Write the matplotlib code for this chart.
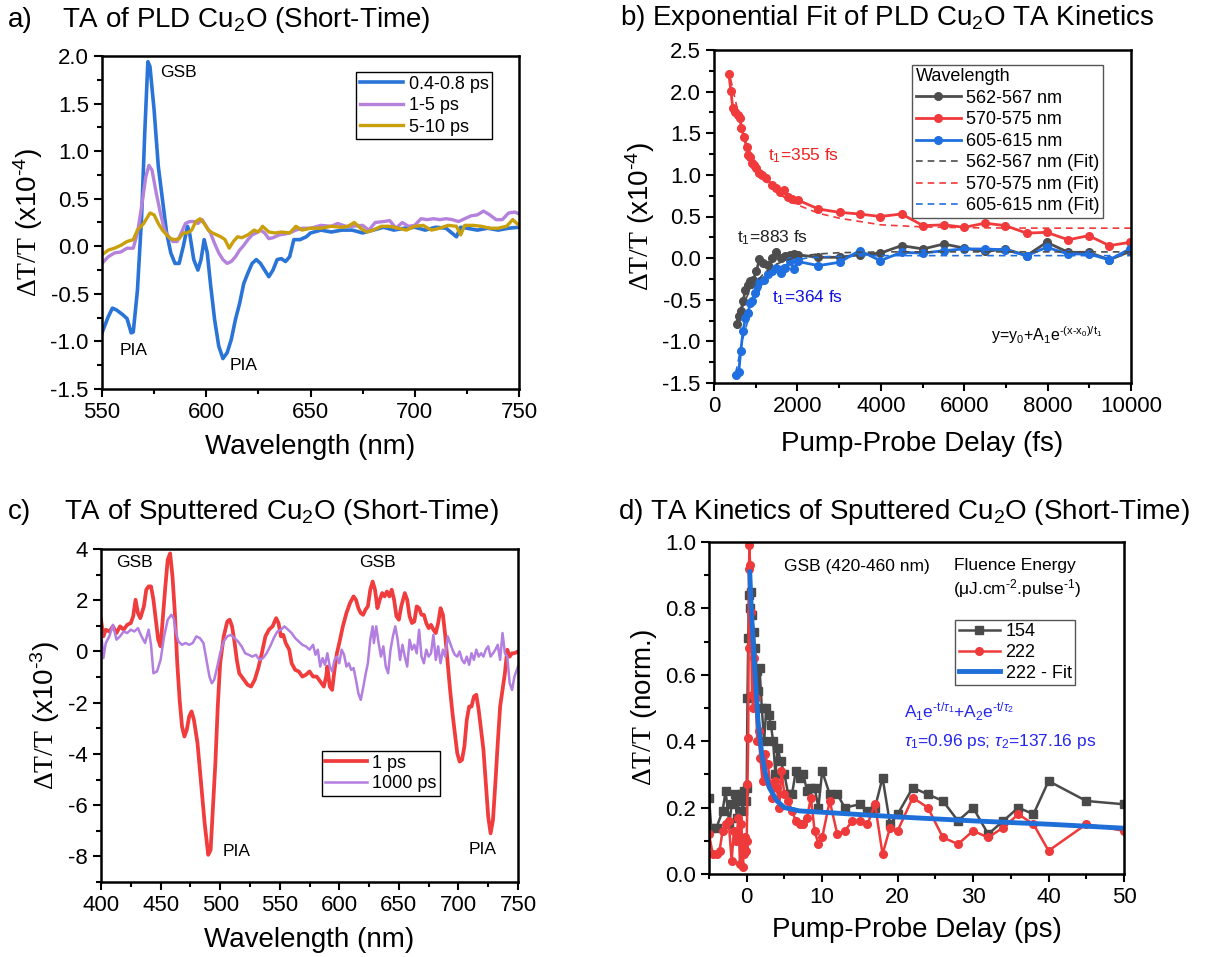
import matplotlib
matplotlib.use("Agg")
import matplotlib.pyplot as plt
import matplotlib.ticker as ticker
import numpy as np

plt.rcParams["font.family"] = ["Liberation Sans", "DejaVu Sans"]
plt.rcParams["mathtext.fontset"] = "custom"
plt.rcParams["mathtext.rm"] = "Liberation Sans"
plt.rcParams["mathtext.it"] = "Liberation Sans:italic"
plt.rcParams["mathtext.cal"] = "Liberation Serif"
plt.rcParams["axes.unicode_minus"] = False

# ---------------- panel a: TA of PLD Cu2O ----------------
a_x_blue = [550, 553, 555, 557, 560, 562, 564, 565, 567, 569, 570.5, 572, 573, 575, 577, 579,
            581, 583, 585, 587, 589, 591, 592, 594, 596, 597.5, 599, 600.5, 602, 604, 606, 608,
            610, 612, 614, 616, 618, 620, 622, 624, 626, 628, 630, 632, 634, 636, 638, 640,
            642, 645, 648, 650, 655, 660, 665, 670, 675, 680, 685, 690, 695, 700, 705, 710,
            715, 720, 722, 725, 730, 735, 740, 745, 750]
a_blue = [-0.91, -0.74, -0.65, -0.67, -0.72, -0.76, -0.91, -0.90, -0.46, 0.31, 1.19, 1.94, 1.89,
          1.43, 0.84, 0.49, 0.14, -0.07, -0.18, -0.18, 0.0, 0.21, 0.14, -0.14, -0.25, -0.14,
          0.07, -0.07, -0.39, -0.77, -1.05, -1.18, -1.12, -0.98, -0.77, -0.60, -0.39, -0.28,
          -0.18, -0.14, -0.18, -0.25, -0.32, -0.25, -0.14, -0.13, -0.16, -0.11, 0.07, 0.07,
          0.10, 0.14, 0.17, 0.15, 0.17, 0.17, 0.14, 0.17, 0.20, 0.17, 0.19, 0.20, 0.17, 0.20,
          0.19, 0.10, 0.20, 0.19, 0.17, 0.19, 0.17, 0.19, 0.20]

a_x_purple = [550, 553, 556, 559, 562, 565, 567, 569, 571, 572.5, 574, 576, 578, 580, 582, 584,
              586, 588, 590, 592, 594, 596, 598, 600, 602, 604, 606, 608, 610, 612, 614, 616,
              618, 620, 622, 624, 626, 628, 630, 632, 635, 638, 640, 643, 646, 650, 655, 660,
              663, 667, 670, 675, 678, 681, 685, 688, 691, 694, 697, 700, 703, 706, 709, 712,
              715, 718, 721, 724, 727, 730, 733, 736, 739, 742, 745, 748, 750]
a_purple = [-0.18, -0.11, -0.07, -0.06, -0.02, -0.02, 0.14, 0.42, 0.73, 0.85, 0.80, 0.56, 0.35,
            0.17, 0.10, 0.05, 0.05, 0.14, 0.24, 0.26, 0.26, 0.24, 0.28, 0.21, 0.14, 0.03, -0.07,
            -0.14, -0.18, -0.16, -0.11, -0.04, 0.01, 0.07, 0.12, 0.14, 0.17, 0.14, 0.08, 0.09,
            0.12, 0.13, 0.14, 0.17, 0.19, 0.19, 0.22, 0.21, 0.24, 0.21, 0.21, 0.22, 0.17, 0.25,
            0.26, 0.27, 0.19, 0.25, 0.21, 0.22, 0.29, 0.28, 0.29, 0.28, 0.29, 0.28, 0.26, 0.29,
            0.32, 0.33, 0.37, 0.33, 0.28, 0.28, 0.35, 0.36, 0.34]

a_x_gold = [550, 553, 556, 559, 562, 565, 567, 570, 573, 575, 577, 579, 581, 583, 585, 587, 589,
            591, 593, 595, 597, 599, 601, 603, 605, 607, 609, 611, 613, 615, 617, 620, 623, 625,
            627, 630, 633, 636, 640, 643, 646, 650, 655, 660, 665, 668, 671, 674, 677, 680, 684,
            688, 692, 696, 700, 704, 708, 712, 716, 720, 722, 724, 728, 732, 736, 740, 744, 747,
            750]
a_gold = [-0.09, -0.04, -0.02, 0.01, 0.05, 0.07, 0.17, 0.24, 0.35, 0.33, 0.24, 0.17, 0.12, 0.08,
          0.07, 0.08, 0.14, 0.14, 0.17, 0.26, 0.29, 0.24, 0.17, 0.14, 0.12, 0.10, 0.07, -0.02,
          0.05, 0.10, 0.09, 0.12, 0.17, 0.15, 0.21, 0.15, 0.14, 0.15, 0.14, 0.21, 0.17, 0.19,
          0.19, 0.21, 0.20, 0.21, 0.25, 0.19, 0.15, 0.17, 0.21, 0.21, 0.19, 0.17, 0.21, 0.22,
          0.17, 0.19, 0.22, 0.21, 0.12, 0.22, 0.22, 0.21, 0.19, 0.19, 0.21, 0.28, 0.22]

a_labels = ["0.4-0.8 ps", "1-5 ps", "5-10 ps"]

# ---------------- panel b: kinetics fits ----------------
b_t_red = [357, 404, 451, 498, 564, 621, 659, 715, 781, 809, 875, 922, 969, 1016, 1091, 1157,
           1251, 1392, 1486, 1580, 1675, 1769, 1863, 2004, 2502, 3010, 3490, 3989, 4497, 5014,
           5513, 6002, 6500, 6990, 7498, 7977, 8495, 8984, 9482, 9972]
b_red = [2.21, 2.01, 1.80, 1.76, 1.72, 1.68, 1.56, 1.46, 1.34, 1.24, 1.22, 1.14, 1.12, 1.08,
         1.02, 1.00, 0.96, 0.88, 0.84, 0.80, 0.82, 0.74, 0.71, 0.70, 0.59, 0.55, 0.53, 0.50,
         0.53, 0.39, 0.40, 0.37, 0.42, 0.39, 0.30, 0.31, 0.22, 0.27, 0.15, 0.19]

b_t_black = [546, 593, 640, 696, 753, 809, 875, 941, 1016, 1091, 1185, 1298, 1392, 1486, 1599,
             1693, 1816, 1910, 2004, 2502, 3010, 3490, 3989, 4497, 5014, 5513, 6002, 6500,
             6990, 7498, 7977, 8495, 8984, 9482, 9972]
b_black = [-0.79, -0.69, -0.64, -0.52, -0.38, -0.32, -0.28, -0.26, -0.16, -0.01, -0.06, -0.08,
           0.0, 0.07, 0.0, 0.03, 0.04, 0.05, 0.04, 0.01, 0.01, 0.04, 0.06, 0.15, 0.11, 0.17,
           0.12, 0.08, 0.11, 0.03, 0.19, 0.07, 0.07, -0.02, 0.08]

b_t_blue = [527, 593, 640, 696, 753, 809, 875, 922, 979, 1035, 1110, 1204, 1298, 1392, 1486,
            1599, 1693, 1816, 1910, 2004, 2502, 3010, 3490, 3989, 4497, 5014, 5513, 6002, 6500,
            6990, 7498, 7977, 8495, 8984, 9482, 9972]
b_blue = [-1.40, -1.37, -1.12, -0.88, -0.72, -0.66, -0.54, -0.52, -0.42, -0.34, -0.28, -0.26,
          -0.19, -0.16, -0.12, -0.18, -0.12, -0.04, -0.13, -0.04, -0.09, -0.05, 0.09, -0.03,
          0.07, 0.06, 0.09, 0.11, 0.11, 0.10, 0.03, 0.13, 0.05, 0.05, -0.02, 0.11]

b_fit_t_red = [400, 600, 800, 1000, 1200, 1400, 1600, 1800, 2000, 2500, 3000, 3500, 4000, 5000,
               6000, 7000, 8000, 10000]
b_fit_red = [2.15, 1.70, 1.35, 1.10, 0.95, 0.84, 0.76, 0.69, 0.64, 0.54, 0.48, 0.44, 0.40, 0.375,
             0.365, 0.362, 0.36, 0.36]
b_fit_t_black = [550, 800, 1000, 1200, 1500, 2000, 2500, 3000, 4000, 10000]
b_fit_black = [-0.75, -0.45, -0.30, -0.18, -0.07, 0.02, 0.05, 0.065, 0.075, 0.075]
b_fit_t_blue = [520, 700, 900, 1100, 1300, 1500, 1800, 2200, 2800, 4000, 10000]
b_fit_blue = [-1.38, -0.95, -0.60, -0.38, -0.23, -0.13, -0.05, 0.0, 0.02, 0.03, 0.03]

b_labels = ["562-567 nm", "570-575 nm", "605-615 nm"]

# ---------------- panel c: sputtered Cu2O spectra ----------------
c_x_red = [400, 402, 404, 407, 410, 413, 416, 419, 422, 425, 427, 429, 431, 433, 436, 438, 440,
           442, 444, 446, 448, 450, 452, 454, 456, 458, 460, 462, 464, 466, 468, 470, 472, 474,
           476, 478, 481, 484, 487, 490, 492, 494, 496, 498, 500, 503, 506, 508, 510, 512, 514,
           516, 518, 520, 523, 526, 529, 532, 535, 538, 541, 544, 547, 549, 551, 553, 555, 558,
           560, 563, 566, 569, 572, 575, 578, 581, 584, 587, 589, 590, 592, 594, 596, 598, 600,
           603, 606, 609, 612, 614, 616, 618, 620, 622, 624, 626, 628, 630, 632, 634, 636, 638,
           640, 642, 644, 646, 648, 650, 652, 655, 657, 659, 661, 663, 665, 667, 669, 671, 673,
           675, 677, 679, 681, 683, 685, 687, 689, 691, 693, 695, 697, 699, 701, 703, 705, 707,
           709, 711, 713, 715, 717, 719, 721, 723, 725, 727, 729, 731, 733, 735, 737, 739, 741,
           743, 745, 747, 750]
c_red = [1.24, 0.59, 0.85, 0.78, 0.98, 0.72, 0.98, 0.85, 1.04, 1.11, 1.37, 2.02, 1.50, 1.30,
         1.76, 2.41, 2.54, 2.54, 2.02, 1.24, 0.46, 0.20, 1.37, 2.54, 3.58, 3.83, 2.93, 1.50,
         -0.46, -1.89, -2.93, -3.32, -3.06, -2.54, -2.34, -2.67, -3.58, -5.14, -6.71, -7.94,
         -7.75, -6.05, -4.36, -2.15, -0.46, 0.59, 1.17, 1.24, 0.98, 0.39, -0.33, -0.85, -0.98,
         -1.11, -1.30, -1.37, -1.11, -0.65, -0.07, 0.59, 0.85, 0.98, 1.30, 1.11, 0.59, 0.65,
         0.33, 0.07, -0.46, -0.72, -0.78, -0.98, -0.91, -0.78, -0.98, -0.98, -1.17, -1.37,
         -0.98, -0.59, -1.37, -1.50, -0.72, -0.07, 0.33, 0.98, 1.50, 1.89, 2.15, 2.02, 1.69,
         1.50, 1.43, 1.63, 1.76, 2.41, 2.73, 2.41, 1.69, 2.02, 2.28, 2.15, 2.34, 2.15, 2.41,
         2.02, 1.37, 1.24, 1.76, 2.28, 2.02, 1.37, 1.11, 1.17, 1.76, 1.69, 1.43, 1.43, 1.11,
         0.91, 1.04, 0.85, 0.72, 1.11, 1.69, 1.43, 0.59, -0.46, -1.50, -2.41, -3.19, -3.97,
         -4.30, -4.23, -3.71, -2.67, -2.15, -2.15, -1.76, -1.69, -2.28, -3.06, -3.84, -5.14,
         -6.45, -7.10, -6.58, -5.14, -3.58, -2.15, -1.50, -0.85, 0.07, -0.20, -0.07, -0.07, 0.0]

c_x_purple = [400, 402, 404, 407, 410, 413, 416, 419, 422, 425, 428, 431, 434, 437, 440, 442,
              444, 447, 450, 453, 456, 459, 461, 463, 465, 468, 471, 474, 477, 480, 483, 486,
              489, 491, 493, 495, 497, 500, 503, 506, 509, 512, 515, 518, 521, 524, 527, 530,
              533, 536, 539, 542, 545, 548, 551, 554, 557, 560, 563, 566, 569, 572, 575, 578,
              580, 582, 584, 586, 588, 590, 592, 594, 596, 598, 600, 602, 604, 606, 608, 610,
              612, 614, 616, 618, 620, 622, 624, 626, 628, 629, 631, 633, 635, 637, 639, 641,
              643, 645, 647, 649, 651, 653, 655, 657, 659, 661, 663, 665, 667, 669, 671, 673,
              675, 677, 679, 681, 683, 685, 687, 689, 691, 693, 695, 697, 699, 701, 703, 705,
              707, 709, 711, 713, 715, 717, 719, 721, 723, 725, 727, 729, 731, 733, 735, 737,
              739, 741, 743, 745, 747, 750]
c_purple = [0.85, -0.26, 0.33, 0.59, 1.04, 0.46, 0.59, 0.78, 0.72, 0.85, 0.78, 0.91, 0.59, 0.33,
            0.85, 0.26, -0.85, -0.78, -0.33, 0.59, 1.24, 1.43, 1.30, 0.72, 0.39, 0.26, 0.33,
            0.26, 0.33, 0.59, 0.52, 0.33, -0.46, -0.98, -1.24, -1.11, -0.72, -0.07, 0.39, 0.59,
            0.65, 0.52, 0.39, 0.20, -0.07, -0.13, -0.20, -0.13, -0.33, -0.26, -0.07, 0.20, 0.52,
            0.78, 0.85, 0.98, 0.85, 0.72, 0.52, 0.39, 0.26, 0.20, 0.07, 0.26, -0.13, 0.07, -0.59,
            -0.26, -0.52, -0.07, -0.59, -0.78, -0.33, -0.20, -0.46, 0.07, -0.13, -0.59, -0.46,
            -0.72, -0.65, -1.11, -1.63, -1.89, -1.43, -0.91, -0.46, 0.46, 0.98, 0.33, 0.98, 0.33,
            -0.20, 0.20, -0.59, -0.85, 0.07, 0.59, 0.98, 0.46, -0.33, 0.26, -0.20, -0.59, 0.46,
            0.07, 0.26, -0.07, 0.85, -0.20, -0.46, 0.07, -0.20, -0.07, 0.65, -0.33, 0.20, -0.46,
            0.07, -0.20, 0.59, 0.33, 0.07, -0.13, -0.20, 0.0, -0.33, -0.46, -0.20, -0.52, -0.07,
            -0.33, 0.07, -0.20, -0.07, -0.20, 0.07, 0.20, -0.20, -0.07, 0.07, 0.26, -0.33, 0.72,
            -0.07, -0.20, -1.24, -1.50, -0.98, -0.59]

c_labels = ["1 ps", "1000 ps"]

# ---------------- panel d: sputtered Cu2O kinetics ----------------
d_t_154 = [-5.0, -4.7, -4.0, -3.2, -2.8, -2.3, -2.0, -1.6, -1.3, -1.0, -0.8, -0.5, -0.3, -0.1,
           0.0, 0.1, 0.2, 0.3, 0.4, 0.5, 0.7, 0.9, 1.1, 1.3, 1.5, 1.7, 2.0, 2.3, 2.6, 2.9, 3.2,
           3.5, 3.8, 4.1, 4.5, 5.0, 5.5, 6.0, 6.5, 7.0, 7.5, 8.0, 8.5, 9.0, 9.5, 10.0, 11.0,
           12.0, 13.0, 15.0, 16.0, 17.0, 18.0, 19.0, 20.0, 22.0, 24.0, 26.0, 28.0, 30.0, 32.0,
           34.0, 36.0, 38.0, 40.0, 45.0, 50.0]
d_154 = [0.23, 0.14, 0.14, 0.19, 0.25, 0.15, 0.21, 0.24, 0.17, 0.22, 0.24, 0.19, 0.25, 0.22,
         0.26, 0.53, 0.71, 0.84, 0.80, 0.85, 0.78, 0.73, 0.68, 0.61, 0.55, 0.62, 0.50, 0.40,
         0.50, 0.48, 0.45, 0.40, 0.30, 0.38, 0.34, 0.30, 0.24, 0.24, 0.31, 0.29, 0.30, 0.25,
         0.26, 0.26, 0.20, 0.31, 0.24, 0.24, 0.20, 0.21, 0.19, 0.20, 0.29, 0.15, 0.18, 0.26,
         0.24, 0.22, 0.16, 0.20, 0.12, 0.16, 0.20, 0.18, 0.28, 0.22, 0.21]

d_t_222 = [-5.0, -4.5, -4.0, -3.6, -3.2, -2.8, -2.4, -2.0, -1.7, -1.4, -1.1, -0.9, -0.7, -0.5,
           -0.4, -0.3, -0.2, -0.1, 0.0, 0.1, 0.2, 0.25, 0.3, 0.35, 0.45, 0.55, 0.7, 0.85, 1.0,
           1.2, 1.4, 1.6, 1.8, 2.1, 2.4, 2.8, 3.1, 3.4, 3.7, 4.0, 4.3, 4.6, 5.0, 5.5, 6.0, 6.5,
           7.0, 7.5, 8.0, 8.5, 9.0, 9.5, 10.0, 11.0, 12.0, 13.0, 14.0, 15.0, 16.0, 17.0, 18.0,
           19.0, 20.0, 22.0, 24.0, 26.0, 28.0, 30.0, 32.0, 34.0, 36.0, 38.0, 40.0, 45.0, 50.0]
d_222 = [0.12, 0.06, 0.06, 0.07, 0.13, 0.15, 0.16, 0.04, 0.13, 0.10, 0.17, 0.03, 0.15, 0.02,
         0.08, 0.06, 0.11, 0.07, 0.10, 0.27, 0.41, 0.68, 0.92, 0.99, 0.93, 0.79, 0.54, 0.50,
         0.65, 0.53, 0.40, 0.43, 0.35, 0.28, 0.36, 0.33, 0.27, 0.23, 0.28, 0.26, 0.20, 0.31,
         0.24, 0.22, 0.19, 0.16, 0.15, 0.15, 0.17, 0.23, 0.13, 0.09, 0.11, 0.22, 0.12, 0.13,
         0.16, 0.16, 0.15, 0.21, 0.06, 0.14, 0.13, 0.23, 0.20, 0.11, 0.09, 0.13, 0.11, 0.14,
         0.18, 0.15, 0.07, 0.15, 0.13]

d_t_fit = [0.4, 0.6, 1.0, 1.5, 2.0, 2.5, 3.0, 4.0, 5.0, 7.0, 10.0, 20.0, 30.0, 40.0, 50.0]
d_fit = [0.91, 0.80, 0.64, 0.46, 0.36, 0.30, 0.26, 0.22, 0.20, 0.19, 0.186, 0.172, 0.16, 0.15,
         0.138]

d_labels = ["154", "222", "222 - Fit"]


def style_axes(ax):
    for sp in ax.spines.values():
        sp.set_linewidth(1.8)
    ax.tick_params(which="both", direction="out", top=False, right=False, width=1.5,
                   labelsize=16)
    ax.tick_params(which="major", length=6)
    ax.tick_params(which="minor", length=3.5)


def boxed_legend(ax, **kw):
    leg = ax.legend(handletextpad=0.3, borderpad=0.2, fancybox=False, framealpha=1, **kw)
    leg.get_frame().set_linewidth(1.0)
    return leg


fig = plt.figure(figsize=(12.14, 9.57), dpi=100)
W, H = 1214, 957


def add_ax(left, top, right, bottom):
    return fig.add_axes([left / W, 1 - bottom / H, (right - left) / W, (bottom - top) / H])


ax_a = add_ax(102, 56, 519, 389)
ax_b = add_ax(714, 50, 1131, 383)
ax_c = add_ax(101, 549, 518, 882)
ax_d = add_ax(709, 542, 1124, 874)

ylab4 = r"$\mathcal{\Delta T/T}$ (x10$^{\text{-4}}$)"
ylab3 = r"$\mathcal{\Delta T/T}$ (x10$^{\text{-3}}$)"
lfs = 20

# ---- a ----
ax_a.plot(a_x_blue, a_blue, color="#2a74d8", lw=2.6, label=a_labels[0])
ax_a.plot(a_x_purple, a_purple, color="#b482dc", lw=2.4, label=a_labels[1])
ax_a.plot(a_x_gold, a_gold, color="#c9a00c", lw=2.4, label=a_labels[2])
ax_a.set_xlim(550, 750)
ax_a.set_ylim(-1.5, 2.0)
ax_a.xaxis.set_major_locator(ticker.MultipleLocator(50))
ax_a.xaxis.set_minor_locator(ticker.MultipleLocator(25))
ax_a.yaxis.set_major_locator(ticker.MultipleLocator(0.5))
ax_a.yaxis.set_minor_locator(ticker.MultipleLocator(0.25))
ax_a.yaxis.set_major_formatter(ticker.FormatStrFormatter("%.1f"))
ax_a.set_xlabel("Wavelength (nm)", fontsize=lfs, labelpad=8)
ax_a.set_ylabel(ylab4, fontsize=lfs)
ax_a.text(578, 1.83, "GSB", fontsize=12.5, va="center")
ax_a.text(565, -1.1, "PIA", fontsize=12.5, ha="center", va="center")
ax_a.text(618, -1.25, "PIA", fontsize=12.5, ha="center", va="center")
boxed_legend(ax_a, loc="upper right", bbox_to_anchor=(0.957, 0.979), fontsize=13,
             handlelength=2.4, labelspacing=0.25, edgecolor="black")
style_axes(ax_a)

# ---- b ----
cb = {"k": "#4d4d4d", "r": "#f03a3c", "b": "#1f6fe0"}
ax_b.plot(b_t_black, b_black, color=cb["k"], lw=2, marker="o", ms=5.5, label=b_labels[0])
ax_b.plot(b_t_red, b_red, color=cb["r"], lw=2, marker="o", ms=5.5, label=b_labels[1])
ax_b.plot(b_t_blue, b_blue, color=cb["b"], lw=2, marker="o", ms=5.5, label=b_labels[2])
ax_b.plot(b_fit_t_black, b_fit_black, color=cb["k"], lw=1.2, ls=(0, (4, 3)),
          label=b_labels[0] + " (Fit)")
ax_b.plot(b_fit_t_red, b_fit_red, color=cb["r"], lw=1.2, ls=(0, (4, 3)),
          label=b_labels[1] + " (Fit)")
ax_b.plot(b_fit_t_blue, b_fit_blue, color=cb["b"], lw=1.2, ls=(0, (4, 3)),
          label=b_labels[2] + " (Fit)")
ax_b.set_xlim(0, 10000)
ax_b.set_ylim(-1.5, 2.5)
ax_b.xaxis.set_major_locator(ticker.MultipleLocator(2000))
ax_b.xaxis.set_minor_locator(ticker.MultipleLocator(1000))
ax_b.yaxis.set_major_locator(ticker.MultipleLocator(0.5))
ax_b.yaxis.set_minor_locator(ticker.MultipleLocator(0.25))
ax_b.yaxis.set_major_formatter(ticker.FormatStrFormatter("%.1f"))
ax_b.set_xlabel("Pump-Probe Delay (fs)", fontsize=lfs, labelpad=10)
ax_b.set_ylabel(ylab4, fontsize=lfs)
ax_b.text(1300, 1.23, r"t$_1$=355 fs", color="#f02020", fontsize=12.5, va="center")
ax_b.text(540, 0.25, r"t$_1$=883 fs", color="#222222", fontsize=12.5, va="center")
ax_b.text(1390, -0.47, r"t$_1$=364 fs", color="#1010e0", fontsize=12.5, va="center")
ax_b.text(6650, -0.92, r"y=y$_0$+A$_1$e$^{\text{-(x-x}_0\text{)/t}_1}$", fontsize=11.5,
          va="center")
boxed_legend(ax_b, loc="upper right", bbox_to_anchor=(0.955, 0.983), fontsize=13,
             title="Wavelength", title_fontsize=13, alignment="left",
             handlelength=2.5, labelspacing=0.25, edgecolor="#555555")
style_axes(ax_b)

# ---- c ----
ax_c.plot(c_x_red, c_red, color="#f03c3c", lw=2.7, label=c_labels[0])
ax_c.plot(c_x_purple, c_purple, color="#b27ee0", lw=1.8, label=c_labels[1])
ax_c.set_xlim(400, 750)
ax_c.set_ylim(-9, 4)
ax_c.xaxis.set_major_locator(ticker.MultipleLocator(50))
ax_c.xaxis.set_minor_locator(ticker.MultipleLocator(25))
ax_c.yaxis.set_major_locator(ticker.FixedLocator([-8, -6, -4, -2, 0, 2, 4]))
ax_c.yaxis.set_minor_locator(ticker.MultipleLocator(1))
ax_c.set_xlabel("Wavelength (nm)", fontsize=lfs, labelpad=8)
ax_c.set_ylabel(ylab3, fontsize=lfs)
ax_c.text(428, 3.48, "GSB", fontsize=12.5, ha="center", va="center")
ax_c.text(632, 3.48, "GSB", fontsize=12.5, ha="center", va="center")
ax_c.text(514, -7.8, "PIA", fontsize=12.5, ha="center", va="center")
ax_c.text(720, -7.75, "PIA", fontsize=12.5, ha="center", va="center")
boxed_legend(ax_c, loc="upper left", bbox_to_anchor=(0.508, 0.42), fontsize=13,
             handlelength=2.3, labelspacing=0.2, edgecolor="black")
style_axes(ax_c)

# ---- d ----
ax_d.plot(d_t_154, d_154, color="#4a4a4a", lw=1.8, marker="s", ms=5.5, label=d_labels[0])
ax_d.plot(d_t_222, d_222, color="#ee3a3a", lw=1.8, marker="o", ms=5.5, label=d_labels[1])
ax_d.plot(d_t_fit, d_fit, color="#1f6fd9", lw=3.5, label=d_labels[2])
ax_d.set_xlim(-5, 50)
ax_d.set_ylim(0, 1.0)
ax_d.xaxis.set_major_locator(ticker.MultipleLocator(10))
ax_d.xaxis.set_minor_locator(ticker.MultipleLocator(5))
ax_d.yaxis.set_major_locator(ticker.MultipleLocator(0.2))
ax_d.yaxis.set_minor_locator(ticker.MultipleLocator(0.1))
ax_d.yaxis.set_major_formatter(ticker.FormatStrFormatter("%.1f"))
ax_d.set_xlabel("Pump-Probe Delay (ps)", fontsize=lfs, labelpad=6)
ax_d.set_ylabel(r"$\mathcal{\Delta T/T}$ (norm.)", fontsize=lfs)
ax_d.text(4.9, 0.927, "GSB (420-460 nm)", fontsize=12.5, va="center")
ax_d.text(27.5, 0.93, "Fluence Energy", fontsize=12.5, va="center")
ax_d.text(27.3, 0.86, r"(μJ.cm$^{\text{-2}}$.pulse$^{\text{-1}}$)", fontsize=12.5, va="center")
ax_d.text(20.8, 0.49, r"A$_1$e$^{\text{-t/}\tau_1}$+A$_2$e$^{\text{-t/}\tau_2}$",
          color="#2626ee", fontsize=12.5, va="center")
ax_d.text(20.8, 0.40, r"$\tau_1$=0.96 ps; $\tau_2$=137.16 ps", color="#2626ee",
          fontsize=12.5, va="center")
boxed_legend(ax_d, loc="upper left", bbox_to_anchor=(0.571, 0.793), fontsize=13,
             handlelength=2.3, labelspacing=0.2, edgecolor="#555555")
style_axes(ax_d)

# ---- panel titles ----
tfs = 20
fig.text(8 / W, 1 - 20 / H, "a)", fontsize=tfs, va="center")
fig.text(62 / W, 1 - 20 / H, r"TA of PLD Cu$_2$O (Short-Time)", fontsize=tfs, va="center")
fig.text(620 / W, 1 - 18 / H, r"b) Exponential Fit of PLD Cu$_2$O TA Kinetics", fontsize=tfs,
         va="center")
fig.text(8 / W, 1 - 512 / H, "c)", fontsize=tfs, va="center")
fig.text(64 / W, 1 - 512 / H, r"TA of Sputtered Cu$_2$O (Short-Time)", fontsize=tfs,
         va="center")
fig.text(618 / W, 1 - 512 / H, r"d) TA Kinetics of Sputtered Cu$_2$O (Short-Time)",
         fontsize=tfs, va="center")

fig.savefig("out.png", dpi=100, facecolor="white")
